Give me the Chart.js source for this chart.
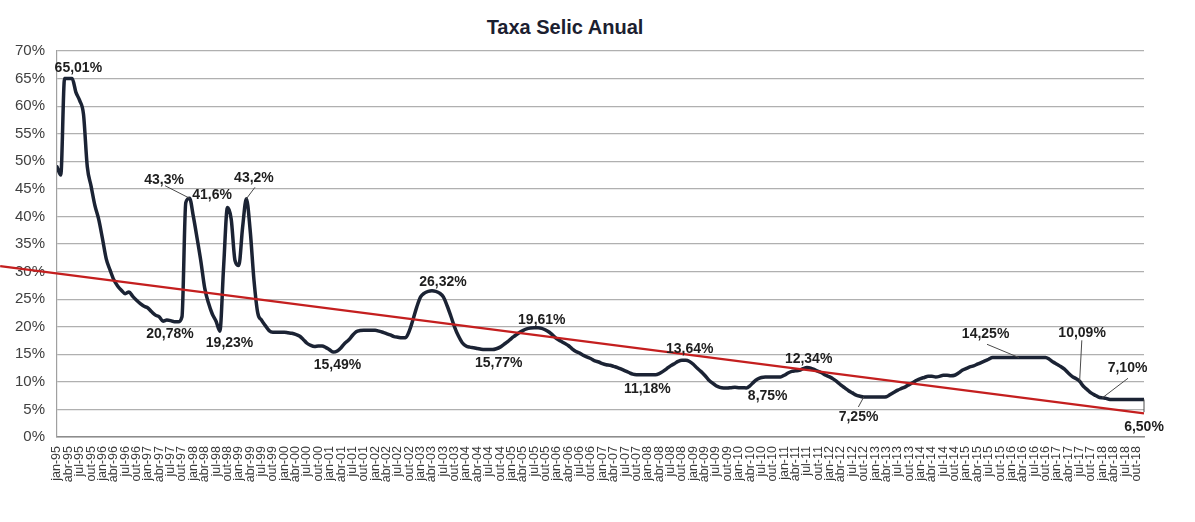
<!DOCTYPE html>
<html>
<head>
<meta charset="utf-8">
<script src="https://cdn.jsdelivr.net/npm/chart.js@4.4.1/dist/chart.umd.min.js"></script>
<style>
  html, body { margin: 0; padding: 0; background: #ffffff; }
  #wrap { position: relative; width: 1195px; height: 522px; }
  #title { position: absolute; left: 415px; width: 300px; top: 14px; text-align: center;
           font: bold 20px "Liberation Sans", Arial, sans-serif; color: #1b2030; line-height: 26px; }
  canvas { position: absolute; left: 0; top: 0; }
</style>
</head>
<body>
<div id="wrap">
  <div id="title">Taxa Selic Anual</div>
  <canvas id="c" width="1195" height="522"></canvas>
</div>
<script>
// ---- tick labels (quarterly) ----
const quarterMonths = ['jan', 'abr', 'jul', 'out'];
const years = ['95','96','97','98','99','00','01','02','03','04','05','06',
               '07','08','09','10','11','12','13','14','15','16','17','18'];

// ---- monthly Selic (% a.a.), jan-95 .. dez-18 ----
const selic = [
  49, 47.5, 65, 65, 65, 62.5, 61, 58.5, 49, 45.5, 42, 39.5,                 // 1995
  36, 32.3, 30.3, 28.5, 27.4, 26.6, 26.0, 26.3, 25.5, 24.8, 24.2, 23.7,      // 1996
  23.4, 22.7, 22.1, 21.8, 21.0, 21.2, 21.1, 20.9, 20.9, 21.8, 42.5, 43.3,    // 1997
  40.0, 36.0, 31.8, 27.0, 24.3, 22.3, 21.0, 19.2, 31, 41.6, 39.5, 32,        // 1998
  31.1, 38, 43.2, 37.5, 28.5, 22.5, 21.2, 20.2, 19.3, 19.0, 19.0, 19.0,      // 1999
  19.0, 18.9, 18.8, 18.6, 18.3, 17.7, 17.0, 16.6, 16.4, 16.5, 16.5, 16.2,    // 2000
  15.8, 15.4, 15.6, 16.2, 17.0, 17.6, 18.4, 19.1, 19.3, 19.35, 19.35, 19.35, // 2001
  19.35, 19.2, 19.0, 18.75, 18.5, 18.2, 18.1, 18.0, 18.0, 19.2, 21.3, 23.6,  // 2002
  25.4, 26.1, 26.4, 26.5, 26.4, 26.1, 25.4, 23.8, 21.9, 19.9, 18.3, 17.1,    // 2003
  16.5, 16.3, 16.2, 16.05, 15.9, 15.85, 15.85, 15.85, 16.0, 16.3, 16.8, 17.3,// 2004
  17.9, 18.4, 18.9, 19.3, 19.6, 19.75, 19.8, 19.8, 19.7, 19.4, 19.0, 18.4,   // 2005
  17.8, 17.4, 17.0, 16.6, 16.0, 15.5, 15.2, 14.8, 14.5, 14.2, 13.8, 13.6,    // 2006
  13.3, 13.1, 13.0, 12.8, 12.6, 12.3, 12.0, 11.7, 11.4, 11.3, 11.3, 11.3,    // 2007
  11.3, 11.3, 11.3, 11.5, 11.9, 12.4, 12.9, 13.3, 13.7, 13.9, 13.9, 13.7,    // 2008
  13.2, 12.5, 11.9, 11.2, 10.4, 9.8, 9.3, 9.0, 8.9, 8.9, 8.95, 9.0,          // 2009
  8.95, 8.95, 8.9, 9.3, 10.0, 10.5, 10.8, 10.9, 10.9, 10.9, 10.9, 10.9,      // 2010
  11.2, 11.6, 11.9, 12.0, 12.1, 12.4, 12.6, 12.5, 12.2, 11.9, 11.6, 11.2,    // 2011
  10.9, 10.5, 10.0, 9.4, 8.9, 8.4, 8.0, 7.6, 7.4, 7.25, 7.25, 7.25,          // 2012
  7.25, 7.25, 7.25, 7.3, 7.7, 8.1, 8.5, 8.8, 9.1, 9.5, 9.9, 10.3,            // 2013
  10.6, 10.8, 11.0, 11.0, 10.9, 11.0, 11.2, 11.2, 11.1, 11.2, 11.6, 12.1,    // 2014
  12.4, 12.7, 12.9, 13.2, 13.5, 13.8, 14.1, 14.4, 14.4, 14.4, 14.4, 14.4,    // 2015
  14.4, 14.4, 14.4, 14.4, 14.4, 14.4, 14.4, 14.4, 14.4, 14.4, 14.1, 13.6,    // 2016
  13.2, 12.8, 12.3, 11.6, 11.0, 10.6, 10.1, 9.2, 8.6, 8.0, 7.6, 7.25,        // 2017
  7.1, 7.0, 6.8, 6.8, 6.8, 6.8, 6.8, 6.8, 6.8, 6.8, 6.8, 6.8                 // 2018
];

// ---- red trend line (month index, %) ----
const trendX = [-15, 287];
const trendY = [31.0, 4.3];

// ---- annotated values: month index, text ----
const noteIndex = [3, 35, 45, 50, 31, 43, 73, 99, 114, 126, 155, 165, 182, 198, 213, 254, 270, 276, 287];
const noteText  = ['65,01%','43,3%','41,6%','43,2%','20,78%','19,23%','15,49%','26,32%','15,77%','19,61%',
                   '11,18%','13,64%','8,75%','12,34%','7,25%','14,25%','10,09%','7,10%','6,50%'];

// label placement relative to the annotated point (styling, not data)
const notePlace = [
  {dx: 10, dy: -10},
  {dx: -25.5, dy: -18, lx: -24.5, ly: -12.5},
  {dx: -15.4, dy: -12.3},
  {dx: 7.6, dy: -20.5, lx: 8.6, ly: -11.5},
  {dx: -4.4, dy: 12.5},
  {dx: 9.7, dy: 12.2},
  {dx: 4, dy: 13},
  {dx: 11, dy: -8.6},
  {dx: 10, dy: 13.7},
  {dx: 7.6, dy: -7.5},
  {dx: 3.2, dy: 14.6},
  {dx: 7.8, dy: -11},
  {dx: 21.4, dy: 8.4},
  {dx: 1.7, dy: -8.2},
  {dx: -5.2, dy: 20.3, lx: -5.4, ly: 10},
  {dx: -33.4, dy: -23.3, lx: -32, ly: -13.3},
  {dx: 2.5, dy: -48, lx: 2.2, ly: -41},
  {dx: 25.2, dy: -29.9, lx: 25.7, ly: -19.6},
  {dx: 0, dy: 27.8, lx: 0, ly: 12.5}
];

const tickLabels = [];
years.forEach(y => quarterMonths.forEach(m => tickLabels.push(m + '-' + y)));

const selicPoints = selic.map((v, i) => ({x: i, y: v}));
const trendPoints = trendX.map((x, i) => ({x: x, y: trendY[i]}));

const FONT = '"Liberation Sans", Arial, sans-serif';

const notesPlugin = {
  id: 'notes',
  afterDatasetsDraw(chart) {
    const meta = chart.getDatasetMeta(1);
    const ctx = chart.ctx;
    ctx.save();
    noteIndex.forEach((idx, k) => {
      const pt = meta.data[idx];
      if (!pt) return;
      const p = notePlace[k];
      if (p.lx !== undefined) {
        ctx.beginPath();
        ctx.strokeStyle = '#4a4a4a';
        ctx.lineWidth = 1;
        ctx.moveTo(pt.x + p.lx, pt.y + p.ly);
        ctx.lineTo(pt.x, pt.y);
        ctx.stroke();
      }
      ctx.font = 'bold 14px ' + FONT;
      ctx.fillStyle = '#1e1e1e';
      ctx.textAlign = 'center';
      ctx.textBaseline = 'middle';
      ctx.fillText(noteText[k], pt.x + p.dx, pt.y + p.dy);
    });
    ctx.restore();
  }
};

new Chart(document.getElementById('c'), {
  type: 'line',
  data: {
    datasets: [
      {
        label: 'Tendência',
        data: trendPoints,
        borderColor: '#c41f1f',
        borderWidth: 2.2,
        pointRadius: 0,
        clip: false,
        tension: 0,
        order: 0
      },
      {
        label: 'Taxa Selic',
        data: selicPoints,
        borderColor: '#1b2334',
        borderWidth: 3.5,
        pointRadius: 0,
        cubicInterpolationMode: 'monotone',
        borderJoinStyle: 'round',
        borderCapStyle: 'round',
        order: 1
      }
    ]
  },
  options: {
    responsive: false,
    animation: false,
    events: [],
    layout: { padding: { top: 51, left: 13, right: 51, bottom: 33 } },
    plugins: {
      legend: { display: false },
      tooltip: { enabled: false },
      title: { display: false }
    },
    scales: {
      x: {
        type: 'linear',
        min: 0,
        max: 287,
        afterFit: (s) => { s.height = 52; },
        grid: { drawOnChartArea: false, drawTicks: false },
        border: { display: true, color: '#8c8c8c', width: 1.5 },
        ticks: {
          stepSize: 3,
          includeBounds: false,
          autoSkip: false,
          minRotation: 90,
          maxRotation: 90,
          padding: 9,
          color: '#3a3a3a',
          font: { family: FONT, size: 12.5 },
          callback: (v) => tickLabels[Math.round(v / 3)] || ''
        }
      },
      y: {
        min: 0,
        max: 70,
        afterFit: (s) => { s.width = 44; },
        grid: { color: '#b0b0b0', lineWidth: 1.2, drawTicks: false },
        border: { display: true, color: '#a0a0a0', width: 1.2 },
        ticks: {
          stepSize: 5,
          padding: 12,
          color: '#404040',
          font: { family: FONT, size: 15 },
          callback: (v) => v + '%'
        }
      }
    }
  },
  plugins: [notesPlugin]
});
</script>
</body>
</html>
